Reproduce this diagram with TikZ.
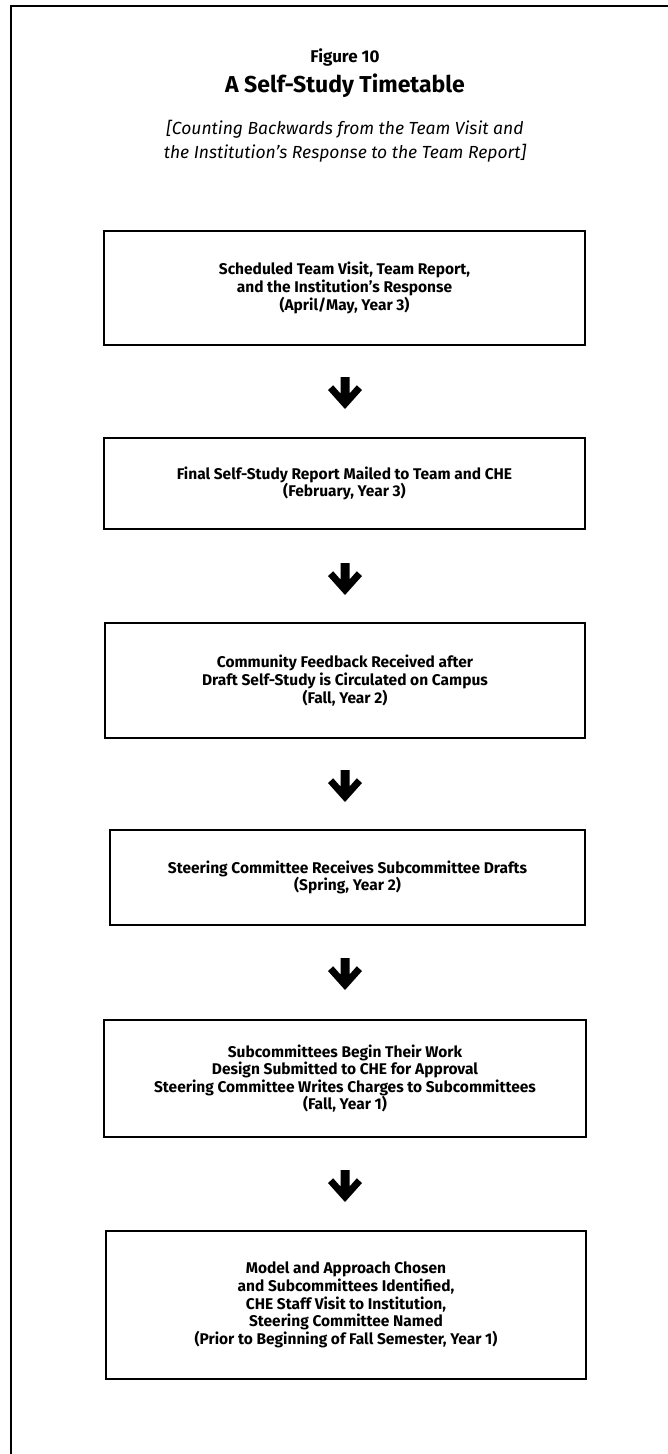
\documentclass[tikz,border=0pt]{standalone}
\usepackage{fontspec}
\setmainfont{Fira Sans}
\tikzset{
  box/.style={draw, line width=1.3pt, align=center, inner sep=0pt,
    font=\fontsize{15.5}{17.6}\selectfont\bfseries},
  framestyle/.style={line width=1.8pt},
  bigarrow/.pic={\fill[black] (-4.5,0) -- (4.5,0) -- (4.5,16.5) -- (11.8,8.3) -- (17,13) -- (0,32) -- (-17,13) -- (-11.8,8.3) -- (-4.5,16.5) -- cycle;}
}
\begin{document}
\begin{tikzpicture}[x=1pt,y=-1pt]
\useasboundingbox (0,0) rectangle (668,1454);
\draw[framestyle] (668,6) -- (11,6) -- (11,1454);
\node[font=\fontsize{17}{20}\selectfont\bfseries] (fig) at (345,57) {Figure 10};
\node[font=\fontsize{23}{27}\selectfont\bfseries] (title) at (345,86) {A Self-Study Timetable};
\node[font=\fontsize{17.5}{24.5}\selectfont\itshape, align=center] (sub) at (345,141) {[Counting Backwards from the Team Visit and\\ the Institution’s Response to the Team Report]};

\node[box, minimum width=481pt, minimum height=114pt] (b1) at (344.5,288) {Scheduled Team Visit, Team Report,\\ and the Institution’s Response\\ (April/May, Year 3)};
\node[box, minimum width=481pt, minimum height=91pt] (b2) at (344.5,483.5) {Final Self-Study Report Mailed to Team and CHE\\ (February, Year 3)};
\node[box, minimum width=480pt, minimum height=115pt] (b3) at (345,680.5) {Community Feedback Received after\\ Draft Self-Study is Circulated on Campus\\ (Fall, Year 2)};
\node[box, minimum width=475pt, minimum height=95pt] (b4) at (347.5,877.5) {Steering Committee Receives Subcommittee Drafts\\ (Spring, Year 2)};
\node[box, minimum width=482pt, minimum height=117pt] (b5) at (345,1078.5) {Subcommittees Begin Their Work\\ Design Submitted to CHE for Approval\\ Steering Committee Writes Charges to Subcommittees\\ (Fall, Year 1)};
\node[box, minimum width=480pt, minimum height=148pt] (b6) at (346,1305) {Model and Approach Chosen\\ and Subcommittees Identified,\\ CHE Staff Visit to Institution,\\ Steering Committee Named\\ (Prior to Beginning of Fall Semester, Year 1)};

\pic (a1) at (345,377) {bigarrow};
\pic (a2) at (345,563) {bigarrow};
\pic (a3) at (345,770) {bigarrow};
\pic (a4) at (345,958) {bigarrow};
\pic (a5) at (345,1170) {bigarrow};
\end{tikzpicture}
\end{document}
